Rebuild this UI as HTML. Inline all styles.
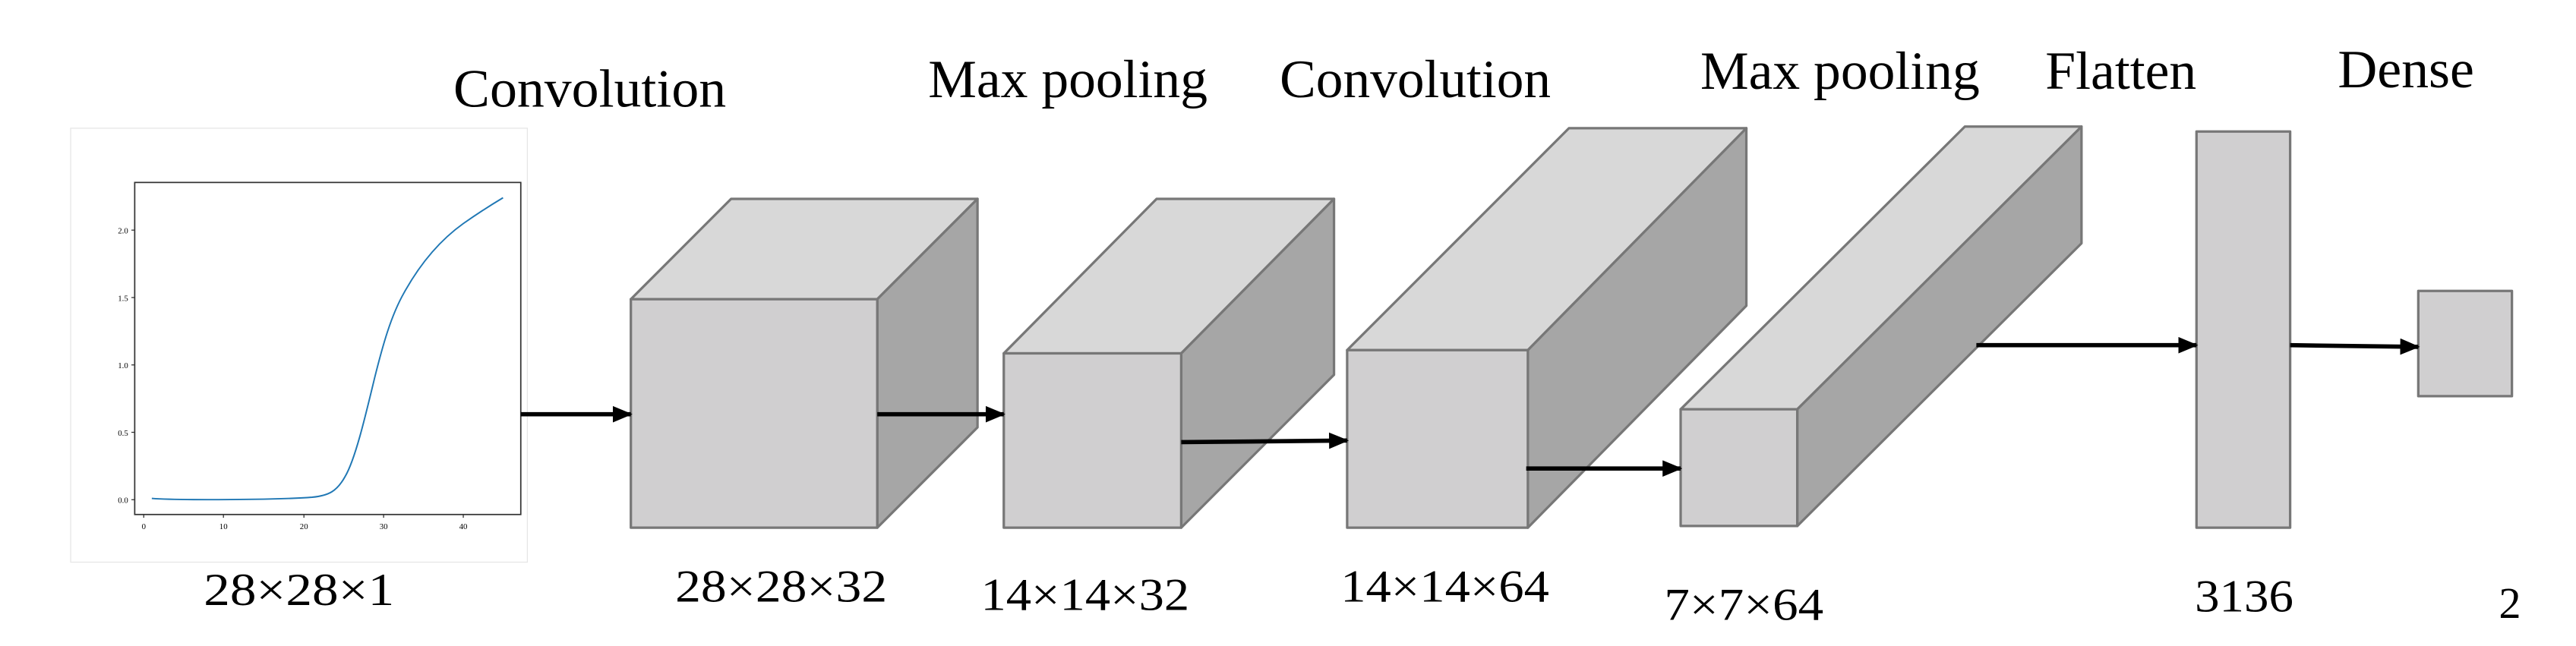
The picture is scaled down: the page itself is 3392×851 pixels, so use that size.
<!DOCTYPE html>
<html><head><meta charset="utf-8"><style>
html,body{margin:0;padding:0;background:#fff;}
svg{display:block;}
text{font-family:"Liberation Serif",serif;fill:#000;}
</style></head><body>
<svg width="3392" height="851" viewBox="0 0 1568 393" preserveAspectRatio="none" xmlns="http://www.w3.org/2000/svg">
<defs><marker id="ah" markerWidth="12" markerHeight="10" refX="11" refY="5" orient="auto" markerUnits="userSpaceOnUse"><path d="M0,0 L12,5 L0,10 z" fill="#000"/></marker></defs>
<rect x="43" y="78" width="278" height="264" fill="#fff" stroke="#e6e6e6" stroke-width="0.6"/>
<rect x="82" y="111" width="235" height="202" fill="#fff" stroke="#333" stroke-width="0.8"/>
<g font-size="5" fill="#333" style="font-family:'Liberation Sans',sans-serif">
<g stroke="#333" stroke-width="0.6">
<line x1="80" y1="140" x2="82" y2="140"/><line x1="80" y1="181" x2="82" y2="181"/><line x1="80" y1="222" x2="82" y2="222"/><line x1="80" y1="263" x2="82" y2="263"/><line x1="80" y1="304" x2="82" y2="304"/>
<line x1="87.5" y1="313" x2="87.5" y2="315"/><line x1="136" y1="313" x2="136" y2="315"/><line x1="185" y1="313" x2="185" y2="315"/><line x1="233.5" y1="313" x2="233.5" y2="315"/><line x1="282" y1="313" x2="282" y2="315"/>
</g>
<text x="78" y="142" text-anchor="end" font-size="5">2.0</text>
<text x="78" y="183" text-anchor="end" font-size="5">1.5</text>
<text x="78" y="224" text-anchor="end" font-size="5">1.0</text>
<text x="78" y="265" text-anchor="end" font-size="5">0.5</text>
<text x="78" y="306" text-anchor="end" font-size="5">0.0</text>
<text x="87.5" y="322" text-anchor="middle" font-size="5">0</text>
<text x="136" y="322" text-anchor="middle" font-size="5">10</text>
<text x="185" y="322" text-anchor="middle" font-size="5">20</text>
<text x="233.5" y="322" text-anchor="middle" font-size="5">30</text>
<text x="282" y="322" text-anchor="middle" font-size="5">40</text>
</g>
<path fill="none" stroke="#1f77b4" stroke-width="0.9" d="M92.4,303.2 C110,304.5 170,304 190,302.5 C200,301.5 205,299 210,290 C216,280 222,255 228,230 C233,210 238,192 246,178 C256,160 268,146 282,136 C292,129 300,124 306.2,120.3"/>
<g stroke="#777" stroke-width="1.5" stroke-linejoin="round">
<polygon points="384,182 445,121 595,121 534,182" fill="#d8d8d8"/>
<polygon points="534,182 595,121 595,260 534,321" fill="#a6a6a6"/>
<rect x="384" y="182" width="150" height="139" fill="#d0cfd0"/>
<polygon points="611,215 704,121 812,121 719,215" fill="#d8d8d8"/>
<polygon points="719,215 812,121 812,228 719,321" fill="#a6a6a6"/>
<rect x="611" y="215" width="108" height="106" fill="#d0cfd0"/>
<polygon points="820,213 955,78 1063,78 930,213" fill="#d8d8d8"/>
<polygon points="930,213 1063,78 1063,186 930,321" fill="#a6a6a6"/>
<rect x="820" y="213" width="110" height="108" fill="#d0cfd0"/>
<polygon points="1023,249 1196,77 1267,77 1094,249" fill="#d8d8d8"/>
<polygon points="1094,249 1267,77 1267,148 1094,320" fill="#a6a6a6"/>
<rect x="1023" y="249" width="71" height="71" fill="#d0cfd0"/>
<rect x="1337" y="80" width="57" height="241" fill="#d0cfd0"/>
<rect x="1472" y="177" width="57" height="64" fill="#d0cfd0"/>
</g>
<g stroke="#000" stroke-width="2.6" marker-end="url(#ah)">
<line x1="317" y1="252" x2="384" y2="252"/>
<line x1="534" y1="252" x2="611" y2="252"/>
<line x1="719" y1="269" x2="820" y2="268"/>
<line x1="929" y1="285" x2="1023" y2="285"/>
<line x1="1203" y1="210" x2="1337" y2="210"/>
<line x1="1394" y1="210" x2="1472" y2="211"/>
</g>
<g font-size="33">
<text x="276" y="65" textLength="166" lengthAdjust="spacingAndGlyphs">Convolution</text>
<text x="565" y="59" textLength="170" lengthAdjust="spacingAndGlyphs">Max pooling</text>
<text x="779" y="59" textLength="165" lengthAdjust="spacingAndGlyphs">Convolution</text>
<text x="1035" y="54" textLength="170" lengthAdjust="spacingAndGlyphs">Max pooling</text>
<text x="1245" y="54" textLength="92" lengthAdjust="spacingAndGlyphs">Flatten</text>
<text x="1423" y="53" textLength="83" lengthAdjust="spacingAndGlyphs">Dense</text>
</g>
<g font-size="28">
<text x="124" y="368" textLength="116" lengthAdjust="spacingAndGlyphs">28×28×1</text>
<text x="411" y="366" textLength="129" lengthAdjust="spacingAndGlyphs">28×28×32</text>
<text x="597" y="371" textLength="127" lengthAdjust="spacingAndGlyphs">14×14×32</text>
<text x="816" y="366" textLength="127" lengthAdjust="spacingAndGlyphs">14×14×64</text>
<text x="1013" y="377" textLength="97" lengthAdjust="spacingAndGlyphs">7×7×64</text>
<text x="1336" y="372" textLength="60" lengthAdjust="spacingAndGlyphs">3136</text>
<text x="1521" y="376" font-size="27">2</text>
</g>
</svg>
</body></html>
